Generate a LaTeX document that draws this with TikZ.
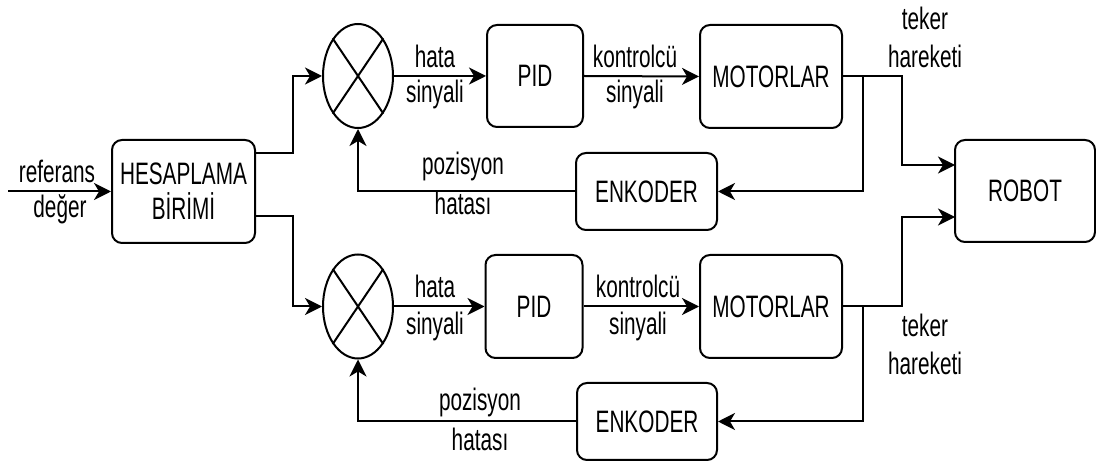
\documentclass[tikz,border=0pt]{standalone}
\usepackage{fontspec}
\setmainfont{Liberation Sans}[FakeStretch=0.67]
\usetikzlibrary{arrows.meta,shapes.geometric}
\begin{document}
\begin{tikzpicture}[x=1pt, y=-1pt,
  font=\fontsize{31}{35}\selectfont,
  box/.style={draw, rounded corners=10pt, line width=2pt, align=center, inner sep=0pt},
  sum/.style={draw, ellipse, line width=2pt, minimum width=70pt, minimum height=104pt, inner sep=0pt},
  lbl/.style={anchor=base, inner sep=0pt},
  wire/.style={line width=2pt},
  conn/.style={wire, -{Stealth[length=17pt,width=17pt,inset=5pt]}}]
\useasboundingbox (0,0) rectangle (1096,462);

% blocks
\node[box, minimum width=143pt, minimum height=103pt] (hes) at (183.5,191.5) {HESAPLAMA\\BİRİMİ};
\node[box, minimum width=140pt, minimum height=102pt] (robot) at (1025,191) {ROBOT};

% upper loop
\node[sum] (s1) at (358,76) {};
\node[box, minimum width=96pt, minimum height=102pt] (pid1) at (535,76) {PID};
\node[box, minimum width=142pt, minimum height=103pt] (mot1) at (771,76.5) {MOTORLAR};
\node[box, minimum width=141pt, minimum height=77pt] (enk1) at (646.5,191.5) {ENKODER};

% lower loop
\node[sum] (s2) at (358,306.5) {};
\node[box, minimum width=97pt, minimum height=103pt] (pid2) at (534,306.5) {PID};
\node[box, minimum width=142pt, minimum height=103pt] (mot2) at (771,306.5) {MOTORLAR};
\node[box, minimum width=140pt, minimum height=77pt] (enk2) at (647,421.5) {ENKODER};

% crosses inside the summing junctions
\foreach \s in {s1,s2}{
  \draw[wire] (\s.56) -- (\s.236);
  \draw[wire] (\s.124) -- (\s.304);
}

% bend points
\coordinate (in) at (8,191.5);
\coordinate (h1) at (255,153);
\coordinate (b1) at (293,153);
\coordinate (h2) at (255,216);
\coordinate (b2) at (293,216);
\coordinate (t1) at (902,76.5);
\coordinate (t2) at (902,306.5);
\coordinate (j1) at (863,76.5);
\coordinate (j2) at (863,306.5);
\coordinate (r1) at (955,165);
\coordinate (r2) at (955,217);

% connectors
\draw[conn] (in) -- (hes.west);
\draw[conn] (h1) -- (b1) |- (s1.west);
\draw[conn] (h2) -- (b2) |- (s2.west);

\draw[conn] (s1.east) -- (pid1.west);
\draw[conn] (pid1.east) -- (mot1.west);
\draw[conn] (mot1.east) -- (t1) |- (r1);
\draw[conn] (j1) |- (enk1.east);
\draw[conn] (enk1.west) -| (s1.south);

\draw[conn] (s2.east) -- (pid2.west);
\draw[conn] (pid2.east) -- (mot2.west);
\draw[conn] (mot2.east) -- (t2) |- (r2);
\draw[conn] (j2) |- (enk2.east);
\draw[conn] (enk2.west) -| (s2.south);

% labels
\node[lbl] (l1) at (57,183) {referans};
\node[lbl] (l2) at (60,218) {değer};

\node[lbl] (l3) at (435,68) {hata};
\node[lbl] (l4) at (435,103) {sinyali};
\node[lbl] (l5) at (635,68) {kontrolcü};
\node[lbl] (l6) at (635,103) {sinyali};
\node[lbl] (l7) at (925,30) {teker};
\node[lbl] (l8) at (925,68) {hareketi};
\node[lbl] (l9) at (463,175) {pozisyon};
\node[lbl] (l10) at (463,215) {hatası};

\node[lbl] (l11) at (435,298) {hata};
\node[lbl] (l12) at (435,335) {sinyali};
\node[lbl] (l13) at (638,298) {kontrolcü};
\node[lbl] (l14) at (638,335) {sinyali};
\node[lbl] (l15) at (925,337) {teker};
\node[lbl] (l16) at (925,375) {hareketi};
\node[lbl] (l17) at (480,411) {pozisyon};
\node[lbl] (l18) at (480,450) {hatası};
\end{tikzpicture}
\end{document}
